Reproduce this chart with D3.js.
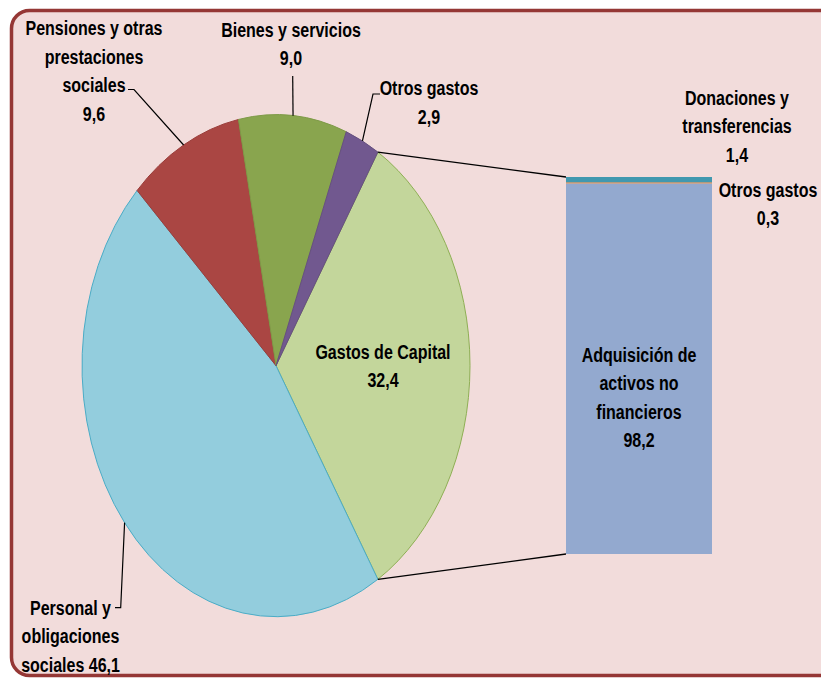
<!DOCTYPE html>
<html><head><meta charset="utf-8">
<script src="https://cdn.jsdelivr.net/npm/d3@7"></script>
<style>
html,body{margin:0;padding:0;background:#fff;}
svg text{font-family:"Liberation Sans",Arial,sans-serif;font-weight:bold;font-size:20px;fill:#000;}
</style></head>
<body><svg id="c" width="821" height="679"></svg>
<script>
// ---- data ----
const pieCategories = ["Gastos de Capital", "Personal y obligaciones sociales", "Pensiones y otras prestaciones sociales", "Bienes y servicios", "Otros gastos"];
const pieValues = [32.4, 46.1, 9.6, 9.0, 2.9];
const pieLabelLines = [
  ["Gastos de Capital", "32,4"],
  ["Personal y", "obligaciones", "sociales 46,1"],
  ["Pensiones y otras", "prestaciones", "sociales", "9,6"],
  ["Bienes y servicios", "9,0"],
  ["Otros gastos", "2,9"]
];
const barCategories = ["Adquisición de activos no financieros", "Otros gastos", "Donaciones y transferencias"];
const barValues = [98.2, 0.3, 1.4];
const barLabelLines = [
  ["Adquisición de", "activos no", "financieros", "98,2"],
  ["Otros gastos", "0,3"],
  ["Donaciones y", "transferencias", "1,4"]
];

// ---- styles ----
const pieFill = ["#C3D69B", "#93CDDD", "#AA4643", "#89A54E", "#71588F"];
const pieStroke = ["#8FAF55", "#4BACC6", "#9A3D3A", "#7E9A47", "#66507F"];
const barFill = ["#93A9CF", "#DB843D", "#4198AF"];
const squeeze = 0.8;

const svg = d3.select("#c");
// background panel
svg.append("rect").attr("x", 11.5).attr("y", 10.5).attr("width", 840).attr("height", 665)
  .attr("rx", 18).attr("ry", 18).attr("fill", "#F2DCDB").attr("stroke", "#953735").attr("stroke-width", 3.5);

// ---- pie (elliptical) ----
const cx = 276, cy = 365.7, rx = 194, ry = 251;
const sy = ry / rx;
const capFrac = pieValues[0] / d3.sum(pieValues);
const start = Math.PI / 2 - capFrac * Math.PI;
const pie = d3.pie().sort(null).startAngle(start).endAngle(start + 2 * Math.PI);
const arcs = pie(pieValues);
const arc = d3.arc().innerRadius(0).outerRadius(rx);
const gp = svg.append("g").attr("transform", `translate(${cx},${cy}) scale(1,${sy})`);
gp.selectAll("path").data(arcs).enter().append("path")
  .attr("d", arc)
  .attr("fill", (d, i) => pieFill[i])
  .attr("stroke", (d, i) => pieStroke[i])
  .attr("stroke-width", 1)
  .attr("vector-effect", "non-scaling-stroke");

function ptAt(a, r) { return [cx + r * Math.sin(a), cy - r * sy * Math.cos(a)]; }

// ---- bar ----
const barX = 566, barW = 146;
const yScale = d3.scaleLinear().domain([0, d3.sum(barValues)]).range([554, 177]);
const stack = [];
let acc = 0;
barValues.forEach((v, i) => { stack.push({ i, y0: acc, y1: acc + v }); acc += v; });
svg.append("g").selectAll("rect").data(stack).enter().append("rect")
  .attr("x", barX).attr("width", barW)
  .attr("y", d => yScale(d.y1))
  .attr("height", d => Math.max(1, yScale(d.y0) - yScale(d.y1)))
  .attr("fill", d => barFill[d.i]);

// connector lines
const capArc = arcs[0];
const pTop = ptAt(capArc.startAngle, rx), pBot = ptAt(capArc.endAngle, rx);
svg.append("line").attr("x1", pTop[0]).attr("y1", pTop[1]).attr("x2", barX).attr("y2", yScale(acc))
  .attr("stroke", "#000").attr("stroke-width", 1.3);
svg.append("line").attr("x1", pBot[0]).attr("y1", pBot[1]).attr("x2", barX).attr("y2", yScale(0))
  .attr("stroke", "#000").attr("stroke-width", 1.3);

// ---- labels ----
function label(lines, x, y0, lh) {
  const t = svg.append("text").attr("text-anchor", "middle")
    .attr("transform", `translate(${x},0) scale(${squeeze},1)`);
  lines.forEach((s, k) => t.append("tspan").attr("x", 0).attr("y", y0 + k * lh).text(s));
  return t;
}
const LH = 28.5;
// label anchor positions (x centre, first baseline)
const pieLabelPos = [[383, 359], [70.5, 615], [94, 35.5], [291, 37], [429, 95]];
pieLabelLines.forEach((l, i) => {
  const p = pieLabelPos[i];
  label(l, p[0], p[1], i === 4 ? 29 : LH);
});
const barLabelPos = [[639, 362], [768, 197], [737, 105]];
barLabelLines.forEach((l, i) => label(l, barLabelPos[i][0], barLabelPos[i][1], LH));

// leader lines (to slice mid-angle on edge)
function mid(d) { return (d.startAngle + d.endAngle) / 2; }
const leaders = [
  { i: 1, pts: [[115, 607.7], [120.7, 607.7]] },
  { i: 2, pts: [[128, 89.5], [134, 89.5]] },
  { i: 3, pts: [[292.7, 76]] },
  { i: 4, pts: [[380, 94], [373, 94]] }
];
leaders.forEach(L => {
  const e = ptAt(mid(arcs[L.i]), rx);
  svg.append("path").attr("d", d3.line()(L.pts.concat([e])))
    .attr("fill", "none").attr("stroke", "#000").attr("stroke-width", 1.2);
});
</script></body></html>
